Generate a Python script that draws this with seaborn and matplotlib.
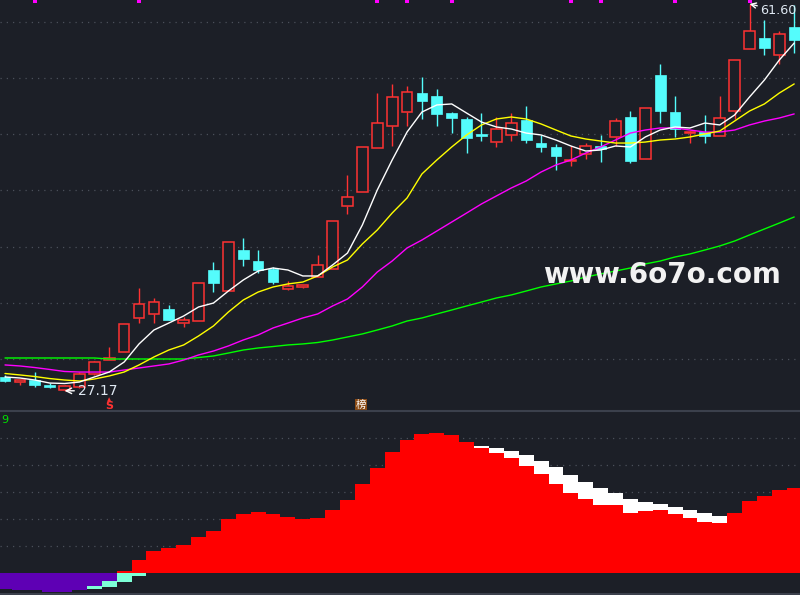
import numpy as np
import pandas as pd
import matplotlib
matplotlib.use("Agg")
import matplotlib.pyplot as plt
import seaborn as sns

BG = "#1c1f27"
UP = "#ff3232"
DN = "#54fcfc"

# ---------------- data ----------------
opens = [28.40, 27.95, 28.13, 27.69, 27.24, 27.51, 28.67, 29.91, 30.62, 33.65,
         34.01, 34.45, 33.20, 33.38, 37.92, 36.05, 39.70, 38.72, 38.01, 36.23,
         36.41, 37.30, 38.01, 43.62, 44.86, 48.78, 50.74, 51.98, 53.67, 53.41,
         51.89, 51.36, 50.03, 49.31, 49.94, 51.27, 49.22, 48.87, 47.62, 48.25,
         48.96, 49.76, 51.54, 47.80, 55.28, 51.98, 50.11, 50.20, 49.85, 52.07,
         57.59, 58.57, 57.06, 59.55]
highs = [28.58, 28.13, 28.84, 27.86, 27.65, 28.84, 29.82, 31.07, 33.12, 36.32,
         35.43, 34.81, 33.74, 36.76, 38.63, 40.41, 40.77, 39.70, 38.20, 36.94,
         36.59, 39.26, 42.28, 46.38, 48.87, 53.67, 54.48, 54.30, 55.10, 54.03,
         51.95, 51.54, 51.89, 51.54, 51.89, 52.52, 49.94, 49.14, 48.96, 49.20,
         49.94, 51.45, 52.07, 52.34, 56.26, 53.41, 50.30, 51.72, 53.41, 56.61,
         61.60, 60.17, 59.19, 61.55]
lows = [27.95, 27.69, 27.51, 27.45, 27.17, 27.45, 28.60, 29.91, 30.62, 33.20,
        33.20, 33.47, 32.85, 33.38, 35.96, 36.05, 38.28, 37.65, 36.67, 36.15,
        36.30, 37.30, 38.01, 42.91, 44.86, 48.78, 48.96, 50.74, 51.36, 50.74,
        50.11, 48.33, 49.40, 48.87, 49.40, 49.22, 48.42, 46.82, 47.18, 47.80,
        47.53, 48.96, 47.44, 47.80, 51.00, 49.76, 49.22, 49.22, 49.85, 51.36,
        57.59, 57.06, 56.26, 57.23]
closes = [28.04, 28.13, 27.69, 27.51, 27.60, 28.67, 29.73, 30.09, 33.12, 34.90,
          35.07, 33.47, 33.47, 36.76, 36.76, 40.41, 38.90, 37.92, 36.85, 36.50,
          36.59, 38.37, 42.28, 44.42, 48.87, 51.00, 53.32, 53.76, 52.96, 51.81,
          51.45, 49.67, 49.85, 50.47, 51.00, 49.49, 48.87, 48.07, 47.71, 48.96,
          48.69, 51.18, 47.62, 52.34, 52.07, 50.47, 50.20, 49.85, 51.45, 56.61,
          59.19, 57.68, 58.93, 58.39]

ma_white = [28.40, 28.31, 28.13, 27.86, 27.82, 27.95, 28.40, 28.84, 29.73, 31.34,
            32.58, 33.20, 33.83, 34.63, 34.98, 36.05, 37.03, 37.83, 38.10, 37.92,
            37.39, 37.39, 38.37, 39.43, 41.93, 45.04, 47.71, 50.20, 51.98, 52.61,
            52.70, 51.89, 51.09, 50.65, 50.47, 50.11, 49.94, 49.49, 48.96, 48.51,
            48.60, 48.96, 48.87, 49.76, 50.38, 50.65, 50.56, 51.00, 50.83, 51.72,
            53.32, 54.83, 56.61, 58.12]
ma_yellow = [28.71, 28.58, 28.44, 28.26, 28.13, 28.04, 28.22, 28.49, 28.84, 29.47,
             30.18, 30.80, 31.25, 32.05, 32.94, 34.18, 35.25, 35.96, 36.41, 36.68,
             36.85, 37.39, 38.19, 38.81, 40.24, 41.48, 42.99, 44.33, 46.47, 47.71,
             48.87, 49.94, 50.83, 51.36, 51.54, 51.36, 50.92, 50.38, 49.85, 49.58,
             49.40, 49.22, 49.22, 49.31, 49.49, 49.58, 49.76, 50.03, 50.29, 51.18,
             52.07, 52.70, 53.67, 54.48]
ma_magenta = [29.47, 29.38, 29.24, 29.07, 28.89, 28.84, 28.84, 28.84, 29.02, 29.20,
              29.38, 29.56, 29.91, 30.36, 30.71, 31.16, 31.69, 32.14, 32.76, 33.20,
              33.65, 34.01, 34.72, 35.34, 36.41, 37.74, 38.72, 39.88, 40.59, 41.39,
              42.19, 42.99, 43.80, 44.51, 45.22, 45.84, 46.64, 47.27, 47.71, 48.33,
              48.87, 49.49, 50.11, 50.38, 50.56, 50.56, 50.38, 50.20, 50.20, 50.38,
              50.83, 51.18, 51.45, 51.81]
ma_green = [30.09, 30.09, 30.09, 30.09, 30.09, 30.09, 30.09, 30.00, 30.00, 30.00,
            30.00, 30.00, 30.00, 30.13, 30.27, 30.53, 30.80, 30.98, 31.11, 31.25,
            31.34, 31.47, 31.69, 31.96, 32.23, 32.58, 32.94, 33.38, 33.65, 34.01,
            34.36, 34.72, 35.07, 35.43, 35.70, 36.05, 36.41, 36.68, 36.94, 37.30,
            37.57, 37.83, 38.10, 38.46, 38.72, 39.08, 39.35, 39.70, 40.06, 40.50,
            41.04, 41.57, 42.10, 42.64]

red_bars = [0, 0, 0, 0, 0, 0, 0, 0, 0.7, 4.8,
            8.1, 9.3, 10.4, 13.3, 15.6, 20.0, 21.9, 22.6, 21.9, 20.7,
            20.0, 20.4, 23.3, 27.0, 33.0, 38.9, 44.8, 49.3, 51.5, 51.9,
            51.1, 48.5, 46.3, 44.4, 42.6, 39.6, 36.7, 33.0, 29.6, 27.4,
            25.2, 25.2, 22.2, 23.0, 23.3, 21.9, 20.4, 18.9, 18.5, 22.2,
            26.7, 28.5, 30.7, 31.5]
white_bars = [0] * 32 + [47.0, 46.3, 45.2, 43.7, 41.5, 39.3, 36.3, 33.7, 31.5, 29.6,
                         27.4, 26.3, 25.6, 24.4, 23.3, 22.2, 21.1] + [0] * 5
purple_bars = [-5.9, -6.3, -6.3, -7.0, -7.0, -6.3, -4.8, -3.0] + [0] * 46
cyan_bars = [0] * 6 + [-5.9, -5.2, -3.3, -1.1] + [0] * 44

signal_idx = [2, 9, 25, 27, 30, 38, 40, 45, 50]
price_grid = [30, 35, 40, 45, 50, 55, 60]
ind_grid = [10, 20, 30, 40, 50]
low_label = "27.17"
high_label = "61.60"
low_idx, high_idx = 4, 50
s_idx = 7
bang_idx = 24
watermark = "www.6o7o.com"

# ---------------- figure ----------------
sns.set_theme(style="dark", rc={"axes.facecolor": BG, "figure.facecolor": BG})
plt.rcParams["font.family"] = ["DejaVu Sans", "Noto Sans CJK SC"]

n = len(opens)
idx = np.arange(n)
df = pd.DataFrame({"i": idx, "o": opens, "h": highs, "l": lows, "c": closes,
                   "m1": ma_white, "m2": ma_yellow, "m3": ma_magenta, "m4": ma_green})

fig = plt.figure(figsize=(8, 5.95), dpi=100, facecolor=BG)
ax = fig.add_axes([0, 184 / 595, 1, 411 / 595])
ax2 = fig.add_axes([0, 1 / 595, 1, 183 / 595])

XL = (-0.336, 53.39)
for a in (ax, ax2):
    a.set_facecolor(BG)
    a.set_xlim(*XL)
    a.set_xticks([])
    a.set_yticks([])
    a.grid(False)
    for s in a.spines.values():
        s.set_visible(False)

ax.set_ylim(25.372, 61.951)
ax2.set_ylim(-7.78, 60)

GRID = "#4b4f5a"
for g in price_grid:
    ax.axhline(g, color=GRID, lw=0.9, ls=(0, (1, 4)), zorder=0)
for g in ind_grid:
    ax2.axhline(g, color=GRID, lw=0.9, ls=(0, (1, 4)), zorder=0)

# candles
w = 0.72
up = df[df.c >= df.o]
dn = df[df.c < df.o]
ax.vlines(up.i, up.c, up.h, color=UP, lw=1, zorder=2)
ax.vlines(up.i, up.l, up.o, color=UP, lw=1, zorder=2)
ax.bar(up.i, np.maximum(up.c - up.o, 0.03), bottom=up.o, width=w,
       facecolor=BG, edgecolor=UP, lw=1.1, zorder=2)
ax.vlines(dn.i, dn.l, dn.h, color=DN, lw=1, zorder=2)
ax.bar(dn.i, dn.o - dn.c, bottom=dn.c, width=w,
       facecolor=DN, edgecolor=DN, lw=0.5, zorder=2)

# moving averages
for col, color in [("m4", "#00ff00"), ("m3", "#ff00ff"), ("m2", "#ffff00"), ("m1", "#ffffff")]:
    sns.lineplot(data=df, x="i", y=col, ax=ax, color=color, lw=1, zorder=3)
ax.set_xlabel("")
ax.set_ylabel("")
ax.set_xlim(*XL)

# signal squares on top
ax.scatter(signal_idx, [61.82] * len(signal_idx), marker="s", s=9,
           color="#ff00ff", zorder=4, clip_on=False, linewidths=0)

# labels for lowest / highest
LBL = "#dfe8f2"
ax.annotate(low_label, xy=(low_idx, lows[low_idx]), xytext=(13, 0),
            textcoords="offset pixels", ha="left", va="center", fontsize=10,
            color=LBL, zorder=5,
            arrowprops=dict(arrowstyle="->", color="white", lw=1,
                            shrinkA=0, shrinkB=0))
ax.annotate(high_label, xy=(high_idx, highs[high_idx]), xytext=(11, -7),
            textcoords="offset pixels", ha="left", va="center", fontsize=9.2,
            color=LBL, zorder=5,
            arrowprops=dict(arrowstyle="->", color="white", lw=1,
                            shrinkA=0, shrinkB=0))

# S marker and 榜 marker
ax.text(s_idx, 26.38, "▲", color=UP, fontsize=4, ha="center", va="center", zorder=5)
ax.text(s_idx, 25.85, "S", color=UP, fontsize=8, ha="center", va="center",
        fontweight="bold", zorder=5)
ax.text(bang_idx - 0.1, 25.93, "榜", color="white", fontsize=7.5, ha="center",
        va="center", family=["Noto Sans CJK SC", "DejaVu Sans"], zorder=5,
        bbox=dict(boxstyle="square,pad=0.1", facecolor="#8a4a14", edgecolor="none"))

# watermark
ax.text(0.828, 0.331, watermark, transform=ax.transAxes, ha="center", va="center",
        fontsize=20, fontweight="bold", color="#f2f2f2", zorder=6)

# lower indicator
ax2.bar(idx, white_bars, width=1.0, color="white", lw=0, zorder=2)
ax2.bar(idx, red_bars, width=1.0, color="#ff0000", lw=0, zorder=3)
ax2.bar(idx, cyan_bars, width=1.0, color="#7dffd6", lw=0, zorder=2)
ax2.bar(idx, purple_bars, width=1.0, color="#5e00b4", lw=0, zorder=3)
ax2.text(0.001, 0.953, "9", transform=ax2.transAxes, color="#00e000",
         fontsize=8, ha="left", va="center")

ax2.spines["top"].set_visible(True)
ax2.spines["top"].set_color("#3b404c")
ax2.spines["top"].set_linewidth(1.5)
ax2.spines["bottom"].set_visible(True)
ax2.spines["bottom"].set_color("#3b404c")
ax2.spines["bottom"].set_linewidth(1.5)

fig.savefig("out.png", dpi=100, facecolor=BG)
